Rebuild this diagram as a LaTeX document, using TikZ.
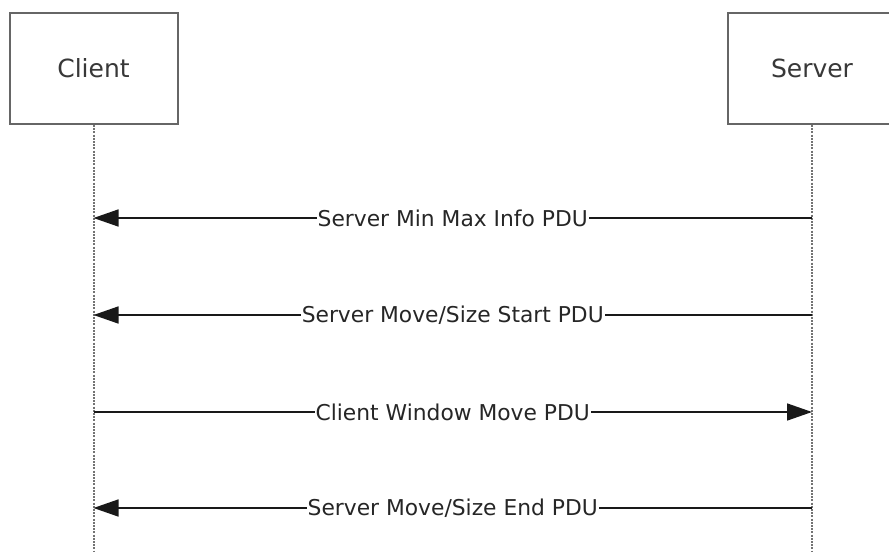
\documentclass[tikz,border=0pt]{standalone}
\usepackage{fontspec}
\setmainfont{DejaVu Sans}
\usetikzlibrary{arrows.meta}
\begin{document}
\begin{tikzpicture}[x=1pt,y=1pt,
  actor/.style={draw=black!60, line width=2pt, minimum width=168pt, minimum height=111pt,
    inner sep=0pt, text=black!78, font=\fontsize{25}{30}\selectfont},
  lifeline/.style={draw=black!55, line width=2pt, dash pattern=on 2pt off 1.2pt},
  msg/.style={draw=black!90, line width=1.6pt, -{Triangle[length=25pt,width=17pt]}},
  lbl/.style={fill=white, inner xsep=1pt, inner ysep=2pt, text=black!85,
    font=\fontsize{21.8}{26}\selectfont}]
\useasboundingbox (0,0) rectangle (889,-552);
\fill[white] (0,0) rectangle (889,-552);
\node[actor] (client) at (93.5,-68.5) {Client};
\node[actor] (server) at (812,-68.5) {Server};
\coordinate (cend) at (client.south |- 0,-552);
\coordinate (send) at (server.south |- 0,-552);
\draw[lifeline] (client.south) -- (cend);
\draw[lifeline] (server.south) -- (send);
\coordinate (c1) at (client.south |- 0,-218);
\coordinate (s1) at (server.south |- 0,-218);
\coordinate (c2) at (client.south |- 0,-315);
\coordinate (s2) at (server.south |- 0,-315);
\coordinate (c3) at (client.south |- 0,-412);
\coordinate (s3) at (server.south |- 0,-412);
\coordinate (c4) at (client.south |- 0,-508);
\coordinate (s4) at (server.south |- 0,-508);
\draw[msg] (s1) -- node[lbl] {Server Min Max Info PDU} (c1);
\draw[msg] (s2) -- node[lbl] {Server Move/Size Start PDU} (c2);
\draw[msg] (c3) -- node[lbl] {Client Window Move PDU} (s3);
\draw[msg] (s4) -- node[lbl] {Server Move/Size End PDU} (c4);
\end{tikzpicture}
\end{document}
